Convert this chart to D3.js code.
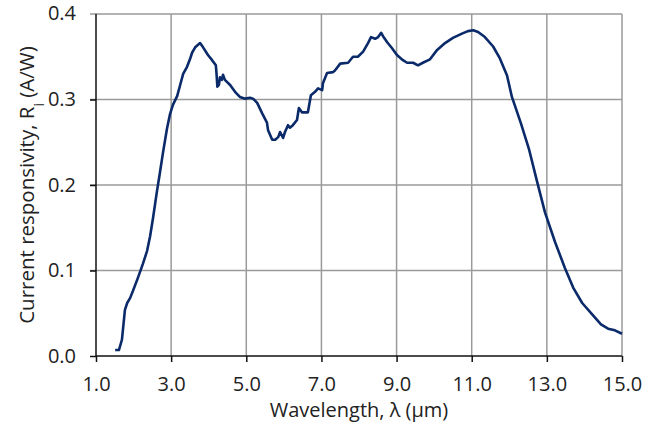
<!DOCTYPE html>
<html>
<head>
<meta charset="utf-8">
<script src="https://cdn.jsdelivr.net/npm/d3@7"></script>
<style>
  body { margin: 0; background: #fff; }
  #chart text { font-family: "Open Sans", "Noto Sans", sans-serif; fill: #222; }
</style>
</head>
<body>
<div id="chart"></div>
<script>
// Data
const wavelength = [1.51, 1.61, 1.69, 1.77, 1.83, 1.91, 1.99, 2.12, 2.25, 2.36, 2.44, 2.52, 2.62, 2.70, 2.78, 2.89, 2.97,
  3.05, 3.16, 3.24, 3.32, 3.42, 3.50, 3.56, 3.64, 3.77, 3.85, 3.98, 4.09, 4.19, 4.21, 4.23, 4.27, 4.30, 4.35, 4.38, 4.43,
  4.57, 4.70, 4.83, 4.97, 5.10, 5.18, 5.29, 5.42, 5.55, 5.58, 5.69, 5.77, 5.85, 5.90, 5.98, 6.03, 6.11, 6.16, 6.24, 6.35,
  6.40, 6.48, 6.56, 6.64, 6.72, 6.83, 6.91, 7.02, 7.04, 7.15, 7.31, 7.36, 7.50, 7.71, 7.84, 7.97, 8.11, 8.24, 8.32, 8.43,
  8.51, 8.59, 8.64, 8.75, 8.88, 9.01, 9.17, 9.28, 9.44, 9.57, 9.70, 9.89, 10.08, 10.29, 10.50, 10.74, 10.90, 11.04, 11.17,
  11.35, 11.57, 11.75, 11.94, 12.07, 12.31, 12.53, 12.74, 12.95, 13.22, 13.48, 13.70, 13.94, 14.20, 14.44, 14.63, 14.81, 15.0]
const responsivity = [0.007, 0.007, 0.019, 0.054, 0.062, 0.068, 0.077, 0.092, 0.108, 0.123, 0.140, 0.162, 0.192, 0.214, 0.237, 0.266, 0.283,
  0.294, 0.304, 0.317, 0.330, 0.338, 0.347, 0.355, 0.361, 0.366, 0.361, 0.352, 0.346, 0.340, 0.329, 0.315, 0.317, 0.326, 0.323, 0.329, 0.323,
  0.317, 0.309, 0.303, 0.301, 0.302, 0.301, 0.296, 0.284, 0.273, 0.264, 0.253, 0.253, 0.256, 0.262, 0.255, 0.262, 0.270, 0.267, 0.270, 0.276,
  0.290, 0.285, 0.285, 0.285, 0.305, 0.309, 0.313, 0.311, 0.319, 0.331, 0.332, 0.334, 0.342, 0.343, 0.350, 0.350, 0.356, 0.366, 0.373, 0.371,
  0.373, 0.378, 0.374, 0.367, 0.360, 0.352, 0.346, 0.343, 0.343, 0.340, 0.343, 0.347, 0.358, 0.366, 0.372, 0.377, 0.380, 0.381, 0.379,
  0.373, 0.362, 0.348, 0.328, 0.303, 0.272, 0.241, 0.204, 0.168, 0.133, 0.103, 0.080, 0.062, 0.049, 0.037, 0.032, 0.030, 0.026]
const xTicks = [1, 3, 5, 7, 9, 11, 13, 15]
const yTicks = [0, 0.1, 0.2, 0.3, 0.4]

const dataset = wavelength.map((w, i) => ({ w, r: responsivity[i] }))

let dims = {
  width: 657,
  height: 423,
  margin: { top: 14, right: 35, bottom: 67, left: 96 }
}
dims.ctrWidth = dims.width - dims.margin.left - dims.margin.right
dims.ctrHeight = dims.height - dims.margin.top - dims.margin.bottom

const xScale = d3.scaleLinear().domain([1, 15]).range([0, dims.ctrWidth])
const yScale = d3.scaleLinear().domain([0, 0.4]).range([dims.ctrHeight, 0])

const svg = d3.select('#chart').append('svg')
  .attr('width', dims.width)
  .attr('height', dims.height)

const ctr = svg.append('g')
  .attr('transform', `translate(${dims.margin.left}, ${dims.margin.top})`)

// grid
ctr.append('g').selectAll('line')
  .data(yTicks.slice(1))
  .join('line')
  .attr('x1', -6).attr('x2', dims.ctrWidth)
  .attr('y1', d => yScale(d)).attr('y2', d => yScale(d))
  .attr('stroke', '#9a9a9a').attr('stroke-width', 1.5)
ctr.append('g').selectAll('line')
  .data(xTicks.slice(1))
  .join('line')
  .attr('x1', d => xScale(d)).attr('x2', d => xScale(d))
  .attr('y1', 0).attr('y2', dims.ctrHeight)
  .attr('stroke', '#9a9a9a').attr('stroke-width', 1.5)

// axes
const xAxis = d3.axisBottom(xScale).tickValues(xTicks).tickFormat(d3.format('.1f')).tickSize(6).tickPadding(15)
const xAxisGroup = ctr.append('g')
  .attr('transform', `translate(0, ${dims.ctrHeight})`)
  .call(xAxis)
xAxisGroup.select('.domain').attr('d', `M0,0H${dims.ctrWidth}`)

const yAxis = d3.axisLeft(yScale).tickValues(yTicks.slice(0, 4)).tickFormat(d3.format('.1f')).tickSize(6).tickPadding(14)
const yAxisGroup = ctr.append('g').call(yAxis)
yAxisGroup.select('.domain').attr('d', `M0,0V${dims.ctrHeight}`)
yAxisGroup.append('g').attr('class', 'tick').attr('transform', `translate(0, ${yScale(0.4)})`)
  .append('text').attr('x', -20).attr('dy', '0.32em').attr('text-anchor', 'end').text('0.4')

ctr.selectAll('.domain, .tick line').attr('stroke', '#111').attr('stroke-width', 1.5)
ctr.selectAll('.tick text').style('font-size', '20px')

// line
const line = d3.line()
  .x(d => xScale(d.w))
  .y(d => yScale(d.r))
ctr.append('path')
  .datum(dataset)
  .attr('d', line)
  .attr('fill', 'none')
  .attr('stroke', '#0b2a6a')
  .attr('stroke-width', 2.6)
  .attr('stroke-linejoin', 'round')

// titles
svg.append('text')
  .attr('x', dims.margin.left + dims.ctrWidth / 2)
  .attr('y', 417)
  .attr('text-anchor', 'middle')
  .style('font-size', '20px')
  .text('Wavelength, λ (μm)')

const yTitle = svg.append('text')
  .attr('transform', `translate(34, ${dims.margin.top + dims.ctrHeight / 2}) rotate(-90)`)
  .attr('text-anchor', 'middle')
  .style('font-size', '20.5px')
yTitle.append('tspan').text('Current responsivity, R')
yTitle.append('tspan').attr('baseline-shift', 'sub').style('font-size', '14px').text('i')
yTitle.append('tspan').text(' (A/W)')
</script>
</body>
</html>
